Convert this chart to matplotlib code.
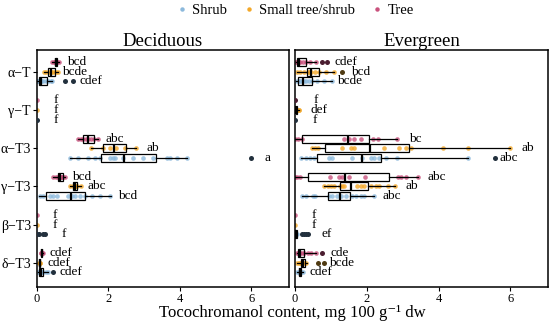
from __future__ import annotations

import matplotlib

matplotlib.use("Agg")
import matplotlib.pyplot as plt
from matplotlib.lines import Line2D


CATEGORIES = ["α−T", "γ−T", "α−T3", "γ−T3", "β−T3", "δ−T3"]
FORMS = ["Tree", "Small tree/shrub", "Shrub"]
LEGEND_ORDER = ["Shrub", "Small tree/shrub", "Tree"]
PANELS = ["Deciduous", "Evergreen"]

# box stats per category: (whisker low, q1, median, q3, whisker high)
# ---------------- Deciduous ----------------
DEC_TREE_POINTS = [
    [0.43, 0.47, 0.50, 0.52, 0.54, 0.57, 0.62],
    [0.0],
    [1.14, 1.22, 1.30, 1.37, 1.44, 1.51, 1.60, 1.72],
    [0.46, 0.52, 0.58, 0.63, 0.66, 0.70, 0.72, 0.79],
    [0.0],
    [0.10, 0.12, 0.14, 0.15, 0.17],
]
DEC_TREE_BOX = [
    (0.43, 0.50, 0.53, 0.56, 0.62),
    (0.0, 0.0, 0.0, 0.0, 0.0),
    (1.14, 1.30, 1.44, 1.60, 1.72),
    (0.46, 0.58, 0.65, 0.72, 0.79),
    (0.0, 0.0, 0.0, 0.0, 0.0),
    (0.10, 0.12, 0.14, 0.15, 0.17),
]
DEC_TREE_OUT = [[], [], [], [], [], []]
DEC_TREE_LETTERS = ["bcd", "f", "abc", "bcd", "f", "cdef"]
DEC_TREE_LETTER_X = [0.84, 0.45, 1.91, 0.99, 0.44, 0.35]

DEC_SMALL_POINTS = [
    [0.20, 0.26, 0.33, 0.38, 0.42, 0.47, 0.53, 0.60],
    [0.0],
    [1.52, 1.84, 2.05, 2.20, 2.45, 2.77],
    [0.91, 1.00, 1.05, 1.08, 1.12, 1.23],
    [0.0],
    [0.05, 0.07, 0.08],
]
DEC_SMALL_BOX = [
    (0.20, 0.32, 0.40, 0.49, 0.60),
    (0.0, 0.0, 0.0, 0.0, 0.0),
    (1.52, 1.84, 2.16, 2.49, 2.77),
    (0.91, 1.00, 1.07, 1.13, 1.23),
    (0.0, 0.0, 0.0, 0.0, 0.0),
    (0.05, 0.06, 0.07, 0.08, 0.08),
]
DEC_SMALL_OUT = [[], [], [], [], [], []]
DEC_SMALL_LETTERS = ["bcde", "f", "ab", "abc", "f", "cdef"]
DEC_SMALL_LETTER_X = [0.70, 0.45, 3.07, 1.40, 0.44, 0.28]

DEC_SHRUB_POINTS = [
    [0.0, 0.03, 0.05, 0.08, 0.10, 0.12, 0.18, 0.25, 0.30, 0.38, 0.42],
    [],
    [0.93, 1.16, 1.44, 1.63, 1.77, 2.05, 2.14, 2.19, 2.42, 2.70, 2.98,
     3.26, 3.63, 3.72, 3.91, 4.19],
    [0.07, 0.17, 0.37, 0.46, 0.56, 0.88, 0.98, 1.07, 1.21, 1.35, 1.54,
     1.77, 2.05],
    [],
    [0.02, 0.05, 0.08, 0.10, 0.13, 0.18, 0.25, 0.30],
]
DEC_SHRUB_BOX = [
    (0.0, 0.05, 0.10, 0.28, 0.42),
    (0.0, 0.0, 0.0, 0.0, 0.0),
    (0.93, 1.79, 2.44, 3.32, 4.19),
    (0.05, 0.26, 0.96, 1.33, 2.08),
    (0.0, 0.0, 0.0, 0.0, 0.0),
    (0.02, 0.05, 0.10, 0.18, 0.30),
]
DEC_SHRUB_OUT = [[0.77, 1.02], [0.0], [6.0], [], [0.0, 0.05, 0.17, 0.22], [0.45]]
DEC_SHRUB_LETTERS = ["cdef", "f", "a", "bcd", "f", "cdef"]
DEC_SHRUB_LETTER_X = [1.19, 0.45, 6.38, 2.28, 0.68, 0.63]

# ---------------- Evergreen ----------------
EVE_TREE_POINTS = [
    [0.02, 0.05, 0.10, 0.15, 0.22, 0.30, 0.42, 0.58],
    [],
    [0.0, 0.07, 0.19, 1.37, 1.51, 1.65, 1.84, 2.16, 2.32, 2.84],
    [0.0, 0.05, 0.14, 0.98, 1.23, 1.30, 1.51, 1.95, 2.86, 2.95, 3.09, 3.42],
    [0.0],
    [0.05, 0.08, 0.12, 0.15, 0.20, 0.25, 0.35, 0.45, 0.58],
]
EVE_TREE_BOX = [
    (0.02, 0.05, 0.12, 0.30, 0.58),
    (0.0, 0.0, 0.0, 0.0, 0.0),
    (0.0, 0.19, 1.48, 2.05, 2.84),
    (0.0, 0.35, 1.39, 2.63, 3.42),
    (0.0, 0.0, 0.0, 0.0, 0.0),
    (0.05, 0.07, 0.15, 0.25, 0.58),
]
EVE_TREE_OUT = [[0.74, 0.90], [0.0], [], [], [], [0.74]]
EVE_TREE_LETTERS = ["cdef", "f", "bc", "abc", "f", "cde"]
EVE_TREE_LETTER_X = [1.09, 0.51, 3.18, 3.70, 0.46, 0.98]

EVE_SMALL_POINTS = [
    [0.05, 0.15, 0.25, 0.35, 0.40, 0.45, 0.55, 0.67, 0.85, 1.09],
    [0.0, 0.03, 0.06, 0.10, 0.12],
    [0.46, 0.55, 0.63, 1.32, 1.56, 1.65, 2.49, 2.91, 3.09, 3.23, 4.12,
     4.82, 5.98],
    [0.81, 0.91, 1.00, 1.09, 1.26, 1.32, 1.37, 1.74, 1.84, 1.91, 2.11,
     2.25, 2.35, 2.58, 2.78],
    [0.0],
    [0.05, 0.10, 0.15, 0.20, 0.25, 0.30],
]
EVE_SMALL_BOX = [
    (0.05, 0.33, 0.44, 0.67, 1.09),
    (0.0, 0.02, 0.04, 0.06, 0.12),
    (0.46, 0.83, 2.09, 3.18, 5.98),
    (0.81, 1.26, 1.56, 2.04, 2.78),
    (0.0, 0.0, 0.0, 0.0, 0.0),
    (0.05, 0.17, 0.22, 0.28, 0.33),
]
EVE_SMALL_OUT = [[1.30], [], [], [], [], [0.63, 0.81]]
EVE_SMALL_LETTERS = ["bcd", "def", "ab", "ab", "f", "bcde"]
EVE_SMALL_LETTER_X = [1.57, 0.42, 6.30, 3.09, 0.46, 0.95]

EVE_SHRUB_POINTS = [
    [0.05, 0.10, 0.15, 0.20, 0.25, 0.30, 0.40, 0.46, 0.60, 0.80, 1.03],
    [],
    [0.18, 0.30, 0.42, 0.53, 0.95, 1.04, 1.60, 1.88, 2.11, 2.21, 2.35,
     2.53, 2.84, 4.82],
    [0.19, 0.30, 0.49, 0.55, 0.95, 1.04, 1.18, 1.28, 1.42, 1.60, 1.70,
     1.84, 1.93, 2.21],
    [0.0, 0.02, 0.05],
    [0.05, 0.10, 0.13, 0.15, 0.18, 0.22],
]
EVE_SHRUB_BOX = [
    (0.03, 0.07, 0.23, 0.46, 1.03),
    (0.0, 0.0, 0.0, 0.0, 0.0),
    (0.18, 0.60, 1.88, 2.39, 4.82),
    (0.19, 0.92, 1.26, 1.54, 2.21),
    (0.0, 0.0, 0.02, 0.05, 0.05),
    (0.05, 0.10, 0.14, 0.18, 0.22),
]
EVE_SHRUB_OUT = [[], [0.0], [5.56], [], [0.20, 0.25, 0.30, 0.35], []]
EVE_SHRUB_LETTERS = ["bcde", "f", "abc", "abc", "ef", "cdef"]
EVE_SHRUB_LETTER_X = [1.16, 0.50, 5.70, 2.44, 0.75, 0.39]

XTICKS = [0, 2, 4, 6]

COLORS = {"Shrub": "#8cb9dc", "Small tree/shrub": "#f3a829", "Tree": "#c9517d"}
OUT_COLORS = {"Shrub": "#22303d", "Small tree/shrub": "#4f3a12", "Tree": "#4a1d30"}
OFFSETS = {"Tree": -0.25, "Small tree/shrub": 0.0, "Shrub": 0.25}

PANEL_DATA = {
    "Deciduous": {
        "Tree": (DEC_TREE_POINTS, DEC_TREE_BOX, DEC_TREE_OUT, DEC_TREE_LETTERS, DEC_TREE_LETTER_X),
        "Small tree/shrub": (DEC_SMALL_POINTS, DEC_SMALL_BOX, DEC_SMALL_OUT, DEC_SMALL_LETTERS, DEC_SMALL_LETTER_X),
        "Shrub": (DEC_SHRUB_POINTS, DEC_SHRUB_BOX, DEC_SHRUB_OUT, DEC_SHRUB_LETTERS, DEC_SHRUB_LETTER_X),
    },
    "Evergreen": {
        "Tree": (EVE_TREE_POINTS, EVE_TREE_BOX, EVE_TREE_OUT, EVE_TREE_LETTERS, EVE_TREE_LETTER_X),
        "Small tree/shrub": (EVE_SMALL_POINTS, EVE_SMALL_BOX, EVE_SMALL_OUT, EVE_SMALL_LETTERS, EVE_SMALL_LETTER_X),
        "Shrub": (EVE_SHRUB_POINTS, EVE_SHRUB_BOX, EVE_SHRUB_OUT, EVE_SHRUB_LETTERS, EVE_SHRUB_LETTER_X),
    },
}


def configure_matplotlib() -> None:
    plt.rcParams["font.family"] = ["Liberation Serif", "DejaVu Serif"]
    plt.rcParams["axes.unicode_minus"] = True
    plt.rcParams["axes.linewidth"] = 1.1


def draw_panel(axis: plt.Axes, panel: str) -> None:
    for form in FORMS:
        points, boxes, outliers, letters, letter_x = PANEL_DATA[panel][form]
        for idx in range(len(CATEGORIES)):
            y = idx + OFFSETS[form]
            if points[idx]:
                axis.scatter(points[idx], [y] * len(points[idx]), s=11,
                             color=COLORS[form], alpha=0.8, linewidths=0, zorder=2)
            lo, q1, med, q3, hi = boxes[idx]
            if hi > 0:
                stats = [{"whislo": lo, "q1": q1, "med": med, "q3": q3, "whishi": hi, "fliers": []}]
                axis.bxp(
                    stats,
                    positions=[y],
                    widths=0.21,
                    vert=False,
                    showcaps=False,
                    showfliers=False,
                    patch_artist=True,
                    boxprops={"facecolor": "none", "edgecolor": "black", "linewidth": 0.9},
                    whiskerprops={"color": "black", "linewidth": 0.9},
                    medianprops={"color": "black", "linewidth": 1.6},
                    manage_ticks=False,
                    zorder=3,
                )
            if outliers[idx]:
                axis.scatter(outliers[idx], [y] * len(outliers[idx]), s=13,
                             color=OUT_COLORS[form], linewidths=0, zorder=4)
            axis.text(letter_x[idx], y, letters[idx], ha="left", va="center",
                      fontsize=9.5, zorder=5)

    axis.set_xlim(0, 7.05)
    axis.set_ylim(len(CATEGORIES) - 0.37, -0.57)
    axis.set_xticks(XTICKS)
    axis.tick_params(axis="x", labelsize=9, length=3, width=0.8, pad=1.5)
    axis.set_title(panel, fontsize=13.5, pad=3)


def main() -> None:
    configure_matplotlib()
    fig = plt.figure(figsize=(5.5, 3.25), dpi=100)
    ax_dec = fig.add_axes([0.0673, 0.117, 0.458, 0.729])
    ax_eve = fig.add_axes([0.5364, 0.117, 0.4600, 0.729])

    draw_panel(ax_dec, "Deciduous")
    draw_panel(ax_eve, "Evergreen")

    ax_dec.set_yticks(range(len(CATEGORIES)))
    ax_dec.set_yticklabels(CATEGORIES)
    ax_dec.tick_params(axis="y", labelsize=10, length=3, width=0.8, pad=1.5)
    ax_eve.set_yticks([])

    fig.text(0.532, 0.036, "Tocochromanol content, mg 100 g⁻¹ dw",
             ha="center", va="center", fontsize=12)

    handles = [
        Line2D([], [], marker="o", linestyle="none", markersize=3.2,
               markerfacecolor=COLORS[form], markeredgewidth=0, label=form)
        for form in LEGEND_ORDER
    ]
    fig.legend(handles=handles, loc="center", bbox_to_anchor=(0.535, 0.967), ncol=3,
               frameon=False, fontsize=10.5, handletextpad=0.2, columnspacing=1.0,
               handlelength=1.0)

    fig.savefig("out.png", dpi=100)
    plt.close(fig)


if __name__ == "__main__":
    main()
